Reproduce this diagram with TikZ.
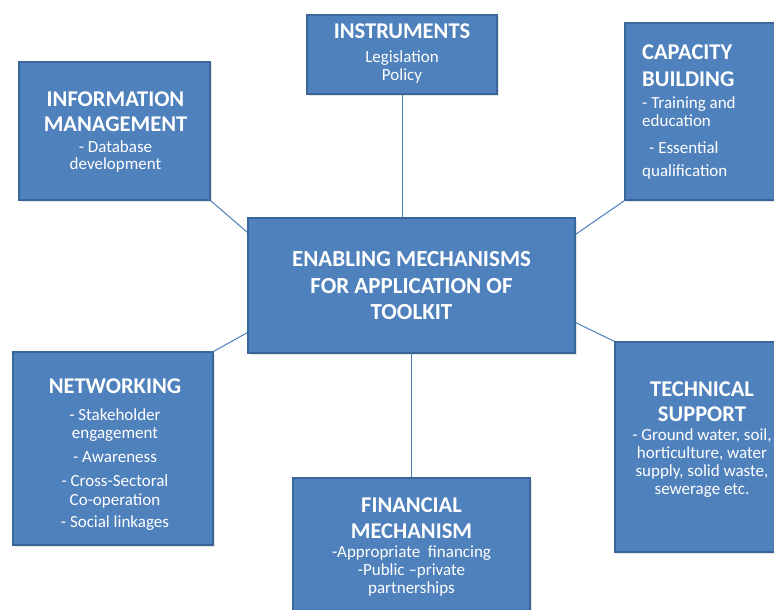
\documentclass[tikz,border=0pt]{standalone}
\usepackage{fontspec}
\setmainfont{Carlito}
\usetikzlibrary{backgrounds,calc,shadows}
\definecolor{boxfill}{HTML}{4F81BD}
\definecolor{boxline}{HTML}{3A669A}
\definecolor{linkc}{HTML}{4A7EBB}
\newcommand\ttl[1]{{\fontsize{22.5}{25}\selectfont\bfseries #1}}
\begin{document}
\begin{tikzpicture}[x=1pt,y=-1pt,
  box/.style={draw=boxline, line width=1.2pt, fill=boxfill, inner sep=0pt,
    drop shadow={opacity=0.22, shadow xshift=1.5pt, shadow yshift=-1.5pt}},
  txt/.style={text=white, inner sep=0pt, align=center, font=\fontsize{17}{18}\selectfont},
  link/.style={draw=linkc, line width=1pt}]
\useasboundingbox (0,0) rectangle (774,610);
\begin{scope}
\clip (0,0) rectangle (774,610);
% boxes
\node[box, minimum width=190pt, minimum height=79pt]  (instr) at (402,54.5) {};
\node[box, minimum width=191pt, minimum height=138pt] (info)  at (114.5,131) {};
\node[box, minimum width=190pt, minimum height=177pt] (cap)   at (720,111.5) {};
\node[box, minimum width=327pt, minimum height=135pt] (ctr)   at (411.5,285.5) {};
\node[box, minimum width=200pt, minimum height=193pt] (net)   at (113,448.5) {};
\node[box, minimum width=174pt, minimum height=210pt] (tech)  at (702,447) {};
\node[box, minimum width=237pt, minimum height=142pt] (fin)   at (411.5,549) {};
% texts
\node[txt] (instr-t) at (402,53.5)
  {\ttl{INSTRUMENTS}\\[6pt]Legislation\\Policy};
\node[txt] (info-t) at (115.5,131.5)
  {\ttl{INFORMATION}\\[7pt]\ttl{MANAGEMENT}\\[3pt]- Database\\[-1pt]development};
\node[txt, align=left, anchor=west] (cap-t) at (642,112)
  {\ttl{CAPACITY}\\[9pt]\ttl{BUILDING}\\[4pt]- Training and\\education\\[9pt]\hspace*{7pt}- Essential\\[5pt]qualification};
\node[txt, font=\fontsize{23}{26.5}\selectfont\bfseries] (ctr-t) at (411.5,286)
  {ENABLING MECHANISMS\\FOR APPLICATION OF\\TOOLKIT};
\node[txt] (net-t) at (115,454.5)
  {\ttl{NETWORKING}\\[9pt]- Stakeholder\\engagement\\[6pt]- Awareness\\[6pt]- Cross-Sectoral\\[1pt]Co-operation\\[4pt]- Social linkages};
\node[txt] (tech-t) at (702,440)
  {\ttl{TECHNICAL}\\[7pt]\ttl{SUPPORT}\\[1pt]- Ground water, soil,\\horticulture, water\\supply, solid waste,\\sewerage etc.};
\node[txt] (fin-t) at (411.5,547)
  {\ttl{FINANCIAL}\\[8pt]\ttl{MECHANISM}\\[1pt]-Appropriate\ \ financing\\-Public --private\\partnerships};
% connectors
\begin{scope}[on background layer]
\draw[link] (instr.south) -- (instr.south |- ctr.north);
\draw[link] (fin.north) -- (fin.north |- ctr.south);
\draw[link] (info.south east) -- ($(ctr.north west)+(0,15)$);
\draw[link] (cap.south west) -- ($(ctr.north east)+(0,17)$);
\draw[link] (net.north east) -- ($(ctr.south west)+(0,-21)$);
\draw[link] (tech.north west) -- ($(ctr.south east)+(0,-31)$);
\end{scope}
\end{scope}
\end{tikzpicture}
\end{document}
